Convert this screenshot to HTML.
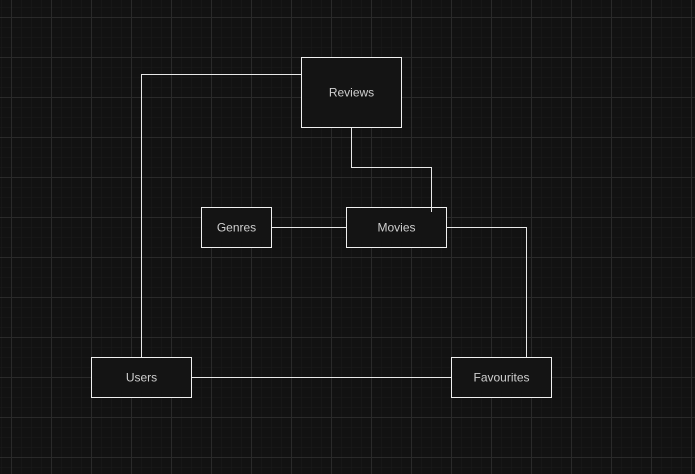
<!DOCTYPE html>
<html><head><meta charset="utf-8"><style>
html,body{margin:0;padding:0;background:#121212;}
body{width:695px;height:474px;overflow:hidden;}
svg{display:block;}
</style></head><body>
<svg width="695" height="474" xmlns="http://www.w3.org/2000/svg">
<defs>
<pattern id="minor" x="1" y="7" width="10" height="10" patternUnits="userSpaceOnUse">
<path d="M0 0.5H10M0.5 0V10" stroke="#171717" stroke-width="1" fill="none"/>
</pattern>
<pattern id="major" x="11" y="17" width="40" height="40" patternUnits="userSpaceOnUse">
<path d="M0 0.5H40M0.5 0V40" stroke="#2a2a2a" stroke-width="1" fill="none"/>
</pattern>
</defs>
<rect width="695" height="474" fill="#121212"/>
<rect width="695" height="474" fill="url(#minor)"/>
<rect width="695" height="474" fill="url(#major)"/>
<g stroke="#e8e8e8" stroke-width="1" fill="none">
<path d="M301 74.5H141.5V357"/>
<path d="M351.5 127V167.5H431.5V207"/>
<path d="M271 227.5H346"/>
<path d="M446 227.5H526.5V357"/>
<path d="M191 377.5H451"/>
</g>
<g stroke="#f0f0f0" stroke-width="1" fill="#141414">
<rect x="301.5" y="57.5" width="100" height="70"/>
<rect x="346.5" y="207.5" width="100" height="40"/>
<rect x="201.5" y="207.5" width="70" height="40"/>
<rect x="91.5" y="357.5" width="100" height="40"/>
<rect x="451.5" y="357.5" width="100" height="40"/>
</g>
<path d="M431.5 207V212" stroke="#e8e8e8" stroke-width="1"/>
<g font-family="Liberation Sans, sans-serif" font-size="12" fill="#d0d0d0" text-anchor="middle">
<text x="351.5" y="96.5">Reviews</text>
<text x="396.5" y="231.5">Movies</text>
<text x="236.5" y="231.5">Genres</text>
<text x="141.5" y="381.5">Users</text>
<text x="501.5" y="381.5">Favourites</text>
</g>
</svg>
</body></html>
